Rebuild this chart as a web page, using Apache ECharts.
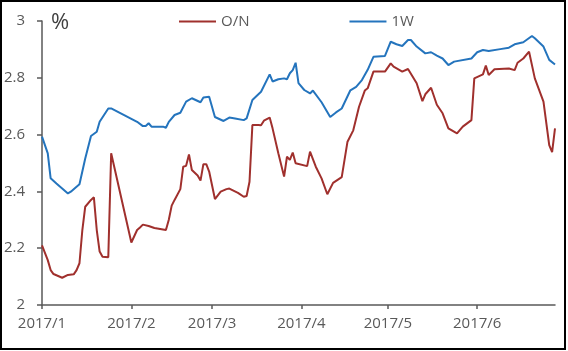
<!DOCTYPE html>
<html>
<head>
<meta charset="utf-8">
<script src="https://cdn.jsdelivr.net/npm/echarts@6/dist/echarts.min.js"></script>
<style>
  body { margin: 0; background: #fff; }
  #chart { position: absolute; left: 0; top: 0; width: 568px; height: 351px; }
  #frame { position: absolute; left: 0; top: 0; width: 562px; height: 346px; border: 2px solid #000; pointer-events: none; }
</style>
</head>
<body>
<div id="chart"></div>
<div id="frame"></div>
<script>
// month ticks on the x axis
const monthTicks = ['2017-01-01', '2017-02-01', '2017-03-01', '2017-04-01', '2017-05-01', '2017-06-01']
const xStart = '2017-01-01'
const xEnd = '2017-06-28'

// O/N rate (%)
const onDates = [
  '2017-01-01', '2017-01-03', '2017-01-04', '2017-01-05', '2017-01-08', '2017-01-10', '2017-01-12', '2017-01-13',
  '2017-01-14', '2017-01-15', '2017-01-16', '2017-01-18', '2017-01-19', '2017-01-20', '2017-01-21', '2017-01-22',
  '2017-01-24', '2017-01-25', '2017-02-01', '2017-02-03', '2017-02-04', '2017-02-05', '2017-02-07', '2017-02-09',
  '2017-02-13', '2017-02-14', '2017-02-15', '2017-02-16', '2017-02-18', '2017-02-19', '2017-02-20', '2017-02-21',
  '2017-02-22', '2017-02-24', '2017-02-25', '2017-02-26', '2017-02-27', '2017-02-28', '2017-03-02', '2017-03-04',
  '2017-03-06', '2017-03-07', '2017-03-10', '2017-03-12', '2017-03-13', '2017-03-14', '2017-03-15', '2017-03-17',
  '2017-03-18', '2017-03-19', '2017-03-21', '2017-03-22', '2017-03-24', '2017-03-26', '2017-03-27', '2017-03-28',
  '2017-03-29', '2017-03-30', '2017-04-03', '2017-04-04', '2017-04-06', '2017-04-08', '2017-04-10', '2017-04-12',
  '2017-04-15', '2017-04-17', '2017-04-19', '2017-04-21', '2017-04-23', '2017-04-24', '2017-04-26', '2017-04-30',
  '2017-05-02', '2017-05-03', '2017-05-06', '2017-05-08', '2017-05-11', '2017-05-13', '2017-05-14', '2017-05-16',
  '2017-05-18', '2017-05-20', '2017-05-22', '2017-05-25', '2017-05-27', '2017-05-30', '2017-05-31', '2017-06-03',
  '2017-06-04', '2017-06-05', '2017-06-07', '2017-06-12', '2017-06-14', '2017-06-15', '2017-06-17', '2017-06-19',
  '2017-06-21', '2017-06-24', '2017-06-26', '2017-06-27', '2017-06-28'
]
const onRates = [
  2.21, 2.158, 2.123, 2.109, 2.096, 2.106, 2.108, 2.123,
  2.147, 2.264, 2.346, 2.37, 2.379, 2.264, 2.188, 2.17,
  2.168, 2.534, 2.22, 2.264, 2.273, 2.283, 2.278, 2.271,
  2.264, 2.30, 2.35, 2.37, 2.408, 2.487, 2.49, 2.53,
  2.475, 2.456, 2.438, 2.496, 2.496, 2.47, 2.373, 2.399,
  2.408, 2.41, 2.395, 2.381, 2.384, 2.434, 2.634, 2.634,
  2.633, 2.649, 2.66, 2.622, 2.534, 2.452, 2.522, 2.511,
  2.537, 2.499, 2.489, 2.54, 2.487, 2.446, 2.39, 2.43,
  2.45, 2.575, 2.615, 2.698, 2.755, 2.763, 2.822, 2.822,
  2.851, 2.839, 2.822, 2.831, 2.781, 2.718, 2.742, 2.765,
  2.705, 2.675, 2.622, 2.604, 2.628, 2.651, 2.798, 2.812,
  2.843, 2.81, 2.83, 2.833, 2.827, 2.853, 2.868, 2.892,
  2.798, 2.716, 2.563, 2.538, 2.622
]

// 1W rate (%)
const wDates = [
  '2017-01-01', '2017-01-03', '2017-01-04', '2017-01-06', '2017-01-10', '2017-01-11', '2017-01-14', '2017-01-16',
  '2017-01-18', '2017-01-20', '2017-01-21', '2017-01-24', '2017-01-25', '2017-02-03', '2017-02-05', '2017-02-06',
  '2017-02-07', '2017-02-08', '2017-02-12', '2017-02-13', '2017-02-14', '2017-02-16', '2017-02-18', '2017-02-20',
  '2017-02-22', '2017-02-25', '2017-02-26', '2017-02-28', '2017-03-02', '2017-03-05', '2017-03-07', '2017-03-09',
  '2017-03-12', '2017-03-13', '2017-03-15', '2017-03-18', '2017-03-21', '2017-03-22', '2017-03-24', '2017-03-26',
  '2017-03-27', '2017-03-28', '2017-03-29', '2017-03-30', '2017-03-31', '2017-04-02', '2017-04-04', '2017-04-05',
  '2017-04-08', '2017-04-11', '2017-04-13', '2017-04-15', '2017-04-18', '2017-04-20', '2017-04-22', '2017-04-24',
  '2017-04-26', '2017-04-30', '2017-05-02', '2017-05-04', '2017-05-06', '2017-05-08', '2017-05-09', '2017-05-11',
  '2017-05-14', '2017-05-16', '2017-05-18', '2017-05-20', '2017-05-22', '2017-05-24', '2017-05-30', '2017-06-01',
  '2017-06-03', '2017-06-05', '2017-06-09', '2017-06-12', '2017-06-14', '2017-06-17', '2017-06-20', '2017-06-21',
  '2017-06-24', '2017-06-26', '2017-06-28'
]
const wRates = [
  2.593, 2.534, 2.446, 2.428, 2.393, 2.399, 2.425, 2.516,
  2.595, 2.61, 2.645, 2.692, 2.692, 2.645, 2.63, 2.63,
  2.64, 2.628, 2.628, 2.624, 2.645, 2.669, 2.677, 2.716,
  2.728, 2.714, 2.731, 2.733, 2.662, 2.648, 2.66, 2.657,
  2.651, 2.657, 2.722, 2.751, 2.812, 2.787, 2.795, 2.798,
  2.795, 2.816, 2.827, 2.853, 2.781, 2.757, 2.745, 2.755,
  2.714, 2.662, 2.678, 2.692, 2.756, 2.768, 2.792, 2.828,
  2.874, 2.877, 2.927, 2.918, 2.912, 2.933, 2.933, 2.91,
  2.886, 2.89, 2.878, 2.868, 2.845, 2.857, 2.868, 2.89,
  2.898, 2.894, 2.901, 2.906, 2.918, 2.925, 2.947, 2.939,
  2.91, 2.863, 2.847
]

const textColor = '#595959'
const axisColor = '#595959'
const font = '"Open Sans", sans-serif'

// date string -> timestamp (local time)
function toStamp(s) {
  const p = s.split('-')
  return new Date(+p[0], +p[1] - 1, +p[2]).getTime()
}

const tickStamps = monthTicks.map(toStamp)

const chart = echarts.init(document.getElementById('chart'))

chart.setOption({
  animation: false,
  backgroundColor: '#fff',
  textStyle: { fontFamily: font },
  title: {
    text: '%',
    left: 46,
    top: 7,
    textStyle: { fontSize: 22, fontWeight: 'normal', color: '#404040', fontFamily: font }
  },
  legend: {
    top: 9,
    left: 174,
    itemWidth: 37,
    itemHeight: 2,
    itemGap: 100,
    icon: 'rect',
    textStyle: { fontSize: 15, color: textColor },
    data: ['O/N', '1W']
  },
  grid: {
    left: 42,
    right: 13,
    top: 21,
    bottom: 46,
    containLabel: false
  },
  xAxis: {
    type: 'value',
    min: toStamp(xStart),
    max: toStamp(xEnd),
    axisLine: { lineStyle: { color: axisColor, width: 1.5 } },
    axisTick: {
      show: true,
      length: 4,
      lineStyle: { color: axisColor, width: 1.5 },
      customValues: tickStamps
    },
    axisLabel: {
      color: textColor,
      fontSize: 15,
      margin: 11,
      customValues: tickStamps,
      formatter: function (v) {
        const d = new Date(v)
        return d.getFullYear() + '/' + (d.getMonth() + 1)
      }
    },
    splitLine: { show: false }
  },
  yAxis: {
    type: 'value',
    min: 2,
    max: 3,
    interval: 0.2,
    axisLine: { show: true, lineStyle: { color: axisColor, width: 1.5 } },
    axisTick: { show: true, length: 5, lineStyle: { color: axisColor, width: 1.5 } },
    axisLabel: { color: textColor, fontSize: 15, margin: 17 },
    splitLine: { show: false }
  },
  series: [{
    name: 'O/N',
    type: 'line',
    symbol: 'none',
    lineStyle: { width: 2, color: '#A0302D' },
    itemStyle: { color: '#A0302D' },
    data: onDates.map((d, i) => [toStamp(d), onRates[i]])
  }, {
    name: '1W',
    type: 'line',
    symbol: 'none',
    lineStyle: { width: 2, color: '#2474BD' },
    itemStyle: { color: '#2474BD' },
    data: wDates.map((d, i) => [toStamp(d), wRates[i]])
  }]
})
</script>
</body>
</html>
